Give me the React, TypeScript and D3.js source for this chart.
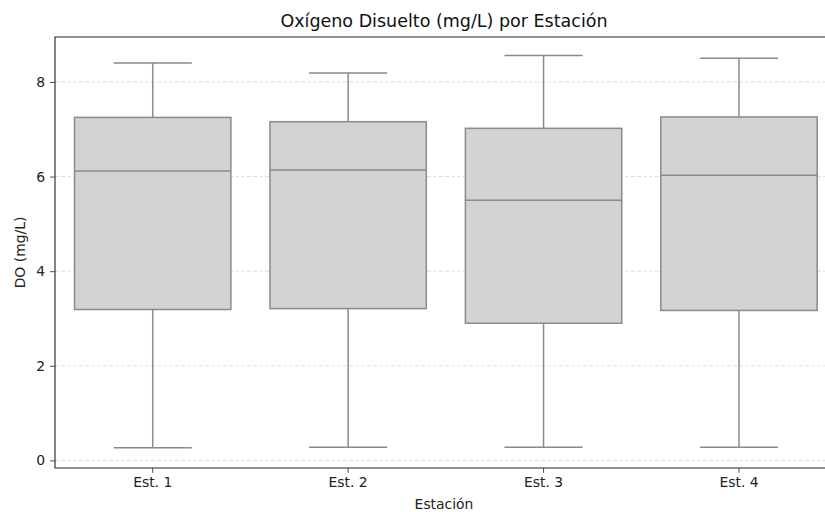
import { useEffect, useRef } from "react";
import * as d3 from "d3";

const STATIONS = ["Est. 1", "Est. 2", "Est. 3", "Est. 4"];
const WHISKER_LOW = [0.27, 0.28, 0.28, 0.28];
const Q1 = [3.19, 3.21, 2.9, 3.17];
const MEDIAN = [6.12, 6.14, 5.5, 6.03];
const Q3 = [7.25, 7.16, 7.02, 7.26];
const WHISKER_HIGH = [8.4, 8.19, 8.56, 8.5];
const Y_TICKS = [0, 2, 4, 6, 8];

const W = 825;
const H = 512;
const FONT = "DejaVu Sans, sans-serif";
const BOX_STROKE = "#8a8a8a";
const BOX_FILL = "#d3d3d3";

export default function App() {
  const svgRef = useRef<SVGSVGElement>(null);

  useEffect(() => {
    document.body.style.margin = "0";
    if (!svgRef.current) return;
    const svg = d3.select(svgRef.current);
    svg.selectAll("*").remove();

    // axes box (right edge sits past the picture, as in the source)
    const left = 55, right = 836.7, top = 37, bottom = 468;

    const x = d3.scaleBand<string>().domain(STATIONS).range([left, right]).padding(0);
    const y = d3.scaleLinear().domain([-0.16, 8.95]).range([bottom, top]);
    const boxW = x.bandwidth() * 0.8;
    const cx = (i: number) => (x(STATIONS[i]) ?? 0) + x.bandwidth() / 2;

    // grid
    svg.append("g")
      .selectAll("line")
      .data(Y_TICKS)
      .enter()
      .append("line")
      .attr("x1", left).attr("x2", right)
      .attr("y1", (d) => y(d)).attr("y2", (d) => y(d))
      .attr("stroke", "#b0b0b0").attr("stroke-opacity", 0.5)
      .attr("stroke-width", 0.8).attr("stroke-dasharray", "4,2");

    const rows = STATIONS.map((s, i) => ({ s, i }));
    const g = svg.append("g");

    // whiskers
    g.selectAll("line.wl").data(rows).enter().append("line")
      .attr("x1", (d) => cx(d.i)).attr("x2", (d) => cx(d.i))
      .attr("y1", (d) => y(Q1[d.i])).attr("y2", (d) => y(WHISKER_LOW[d.i]))
      .attr("stroke", BOX_STROKE).attr("stroke-width", 1.5);
    g.selectAll("line.wh").data(rows).enter().append("line")
      .attr("x1", (d) => cx(d.i)).attr("x2", (d) => cx(d.i))
      .attr("y1", (d) => y(Q3[d.i])).attr("y2", (d) => y(WHISKER_HIGH[d.i]))
      .attr("stroke", BOX_STROKE).attr("stroke-width", 1.5);

    // caps
    for (const arr of [WHISKER_LOW, WHISKER_HIGH]) {
      g.selectAll(null).data(rows).enter().append("line")
        .attr("x1", (d) => cx(d.i) - boxW / 4).attr("x2", (d) => cx(d.i) + boxW / 4)
        .attr("y1", (d) => y(arr[d.i])).attr("y2", (d) => y(arr[d.i]))
        .attr("stroke", BOX_STROKE).attr("stroke-width", 1.5);
    }

    // boxes
    g.selectAll("rect").data(rows).enter().append("rect")
      .attr("x", (d) => cx(d.i) - boxW / 2)
      .attr("width", boxW)
      .attr("y", (d) => y(Q3[d.i]))
      .attr("height", (d) => y(Q1[d.i]) - y(Q3[d.i]))
      .attr("fill", BOX_FILL).attr("stroke", BOX_STROKE).attr("stroke-width", 1.5);

    // medians
    g.selectAll("line.med").data(rows).enter().append("line")
      .attr("x1", (d) => cx(d.i) - boxW / 2).attr("x2", (d) => cx(d.i) + boxW / 2)
      .attr("y1", (d) => y(MEDIAN[d.i])).attr("y2", (d) => y(MEDIAN[d.i]))
      .attr("stroke", BOX_STROKE).attr("stroke-width", 1.5);

    // axes
    const styleAxis = (sel: d3.Selection<SVGGElement, unknown, null, undefined>) => {
      sel.select(".domain").remove();
      sel.selectAll(".tick line").attr("stroke", "#222").attr("stroke-width", 0.8);
      sel.selectAll(".tick text").attr("fill", "#222").attr("font-size", "13.9px").attr("font-family", FONT);
    };
    svg.append("g").attr("transform", `translate(0,${bottom})`)
      .call(d3.axisBottom(x).tickSize(4.9).tickPadding(4))
      .call(styleAxis);
    svg.append("g").attr("transform", `translate(${left},0)`)
      .call(d3.axisLeft(y).tickValues(Y_TICKS).tickFormat(d3.format("d")).tickSize(4.9).tickPadding(5))
      .call(styleAxis);

    // spines
    svg.append("path")
      .attr("d", `M${right},${top}H${left}V${bottom}H${right}`)
      .attr("fill", "none").attr("stroke", "#222").attr("stroke-width", 1.1);

    // labels
    const cxAll = 444;
    svg.append("text")
      .attr("x", cxAll).attr("y", 27)
      .attr("text-anchor", "middle").attr("font-family", FONT).attr("font-size", "17.5px")
      .attr("fill", "#111").text("Oxígeno Disuelto (mg/L) por Estación");
    svg.append("text")
      .attr("x", cxAll).attr("y", 509)
      .attr("text-anchor", "middle").attr("font-family", FONT).attr("font-size", "13.9px")
      .attr("fill", "#222").text("Estación");
    svg.append("text")
      .attr("transform", `translate(25,${(top + bottom) / 2}) rotate(-90)`)
      .attr("text-anchor", "middle").attr("font-family", FONT).attr("font-size", "13.9px")
      .attr("fill", "#222").text("DO (mg/L)");
  }, []);

  return <svg ref={svgRef} width={W} height={H} style={{ display: "block", background: "#fff" }} />;
}
